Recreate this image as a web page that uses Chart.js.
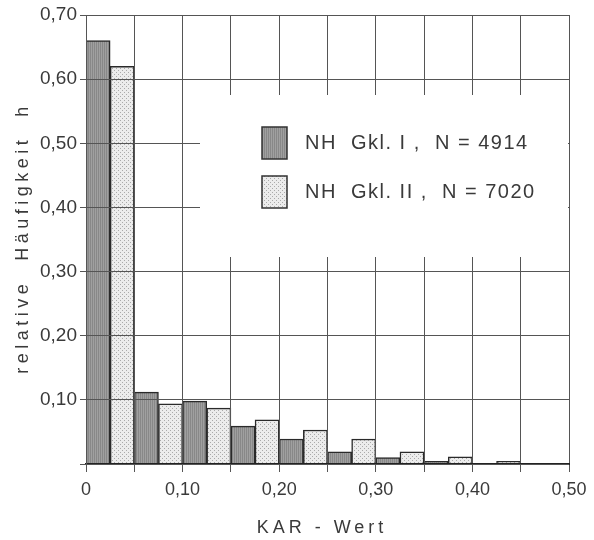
<!DOCTYPE html>
<html>
<head>
<meta charset="utf-8">
<script src="https://cdn.jsdelivr.net/npm/chart.js@4"></script>
<style>
  body { margin: 0; background: #fff; }
  #wrap { width: 594px; height: 540px; }
</style>
</head>
<body>
<div id="wrap"><canvas id="histo"></canvas></div>
<script>
// Klassenmitten der KAR-Werte (Klassenbreite 0,05)
const binCenters = [0.025, 0.075, 0.125, 0.175, 0.225, 0.275, 0.325, 0.375, 0.425, 0.475];
// relative Haeufigkeit h
const gkl1 = [0.66, 0.112, 0.098, 0.059, 0.039, 0.019, 0.010, 0.004, 0.0, 0.0];
const gkl2 = [0.62, 0.094, 0.087, 0.069, 0.053, 0.039, 0.019, 0.011, 0.004, 0.0];
const seriesNames = ['NH  Gkl. I ,  N = 4914', 'NH  Gkl. II ,  N = 7020'];
const yTitle = 'relative  Häufigkeit  h';
const xTitle = 'KAR - Wert';

const textColor = '#3a3a3a';
const gridColor = '#555';

function makePattern(bg, dots) {
    const c = document.createElement('canvas');
    c.width = 4; c.height = 4;
    const g = c.getContext('2d');
    g.fillStyle = bg;
    g.fillRect(0, 0, 4, 4);
    dots(g);
    return g.createPattern(c, 'repeat');
}
// dunkel: grau mit senkrechter Schraffur
const darkFill = makePattern('#a0a0a0', function (g) {
    g.fillStyle = '#888';
    g.fillRect(0, 0, 1, 4);
    g.fillRect(2, 0, 1, 4);
});
// hell: punktiert
const lightFill = makePattern('#ececec', function (g) {
    g.fillStyle = '#aaa';
    g.fillRect(0, 0, 1, 1);
    g.fillRect(2, 2, 1, 1);
});

const fmt = v => v.toFixed(2).replace('.', ',');

// Legende + Achsentitel
const decoPlugin = {
    id: 'deco',
    afterDraw(chart) {
        const ctx = chart.ctx;
        const a = chart.chartArea;
        ctx.save();
        // Legendenfeld verdeckt das Gitter
        ctx.fillStyle = '#fff';
        ctx.fillRect(200, 95, a.right - 1 - 200, 162);

        const fills = [darkFill, lightFill];
        const rows = [143, 192];
        ctx.font = '20px "Liberation Sans", Arial, sans-serif';
        ctx.textBaseline = 'middle';
        ctx.textAlign = 'left';
        ctx.letterSpacing = '1.5px';
        for (let i = 0; i < 2; i++) {
            const y = rows[i];
            ctx.fillStyle = fills[i];
            ctx.fillRect(262, y - 16, 25, 32);
            ctx.strokeStyle = '#333';
            ctx.lineWidth = 1.5;
            ctx.strokeRect(262, y - 16, 25, 32);
            ctx.fillStyle = textColor;
            ctx.fillText(chart.data.datasets[i].label, 305, y);
        }

        // y-Titel
        ctx.font = '18px "Liberation Sans", Arial, sans-serif';
        ctx.letterSpacing = '4.5px';
        ctx.textAlign = 'center';
        ctx.save();
        ctx.translate(23, 238);
        ctx.rotate(-Math.PI / 2);
        ctx.fillText(yTitle, 0, 0);
        ctx.restore();

        // x-Titel
        ctx.font = '18px "Liberation Sans", Arial, sans-serif';
        ctx.letterSpacing = '4px';
        ctx.fillText(xTitle, 322, 528);
        ctx.restore();
    }
};

// leere Klassen ohne Rahmen
const edge = c => (c.raw && c.raw.y > 0) ? 1.5 : 0;

const ctx = document.getElementById('histo').getContext('2d');
const histo = new Chart(ctx, {
    type: 'bar',
    data: {
        datasets: [{
            label: seriesNames[0],
            data: binCenters.map((x, i) => ({ x: x, y: gkl1[i] })),
            backgroundColor: darkFill,
            borderColor: '#2a2a2a',
            borderWidth: edge,
            categoryPercentage: 1,
            barPercentage: 1
        }, {
            label: seriesNames[1],
            data: binCenters.map((x, i) => ({ x: x, y: gkl2[i] })),
            backgroundColor: lightFill,
            borderColor: '#2a2a2a',
            borderWidth: edge,
            categoryPercentage: 1,
            barPercentage: 1
        }]
    },
    options: {
        responsive: true,
        maintainAspectRatio: false,
        animation: false,
        layout: { padding: { top: 15, right: 25, left: 0, bottom: 0 } },
        plugins: {
            legend: { display: false },
            tooltip: { enabled: false }
        },
        scales: {
            x: {
                type: 'linear',
                min: 0,
                max: 0.5,
                offset: false,
                afterFit: s => { s.height = 76; },
                grid: { offset: false, color: gridColor, lineWidth: 1, tickLength: 8, z: 1 },
                border: { color: '#222', width: 2, z: 1 },
                ticks: {
                    stepSize: 0.05,
                    autoSkip: false,
                    maxRotation: 0,
                    padding: 7,
                    color: textColor,
                    font: { family: '"Liberation Sans", Arial, sans-serif', size: 18 },
                    callback: (v, i) => i % 2 ? '' : (v === 0 ? '0' : fmt(v))
                }
            },
            y: {
                min: 0,
                max: 0.7,
                afterFit: s => { s.width = 86; },
                grid: { color: gridColor, lineWidth: 1, tickLength: 6, z: 1 },
                border: { color: gridColor, width: 1, z: 1 },
                ticks: {
                    stepSize: 0.1,
                    padding: 3,
                    color: textColor,
                    font: { family: '"Liberation Sans", Arial, sans-serif', size: 19 },
                    callback: v => v === 0 ? '' : fmt(v)
                }
            }
        }
    },
    plugins: [decoPlugin]
});
</script>
</body>
</html>
